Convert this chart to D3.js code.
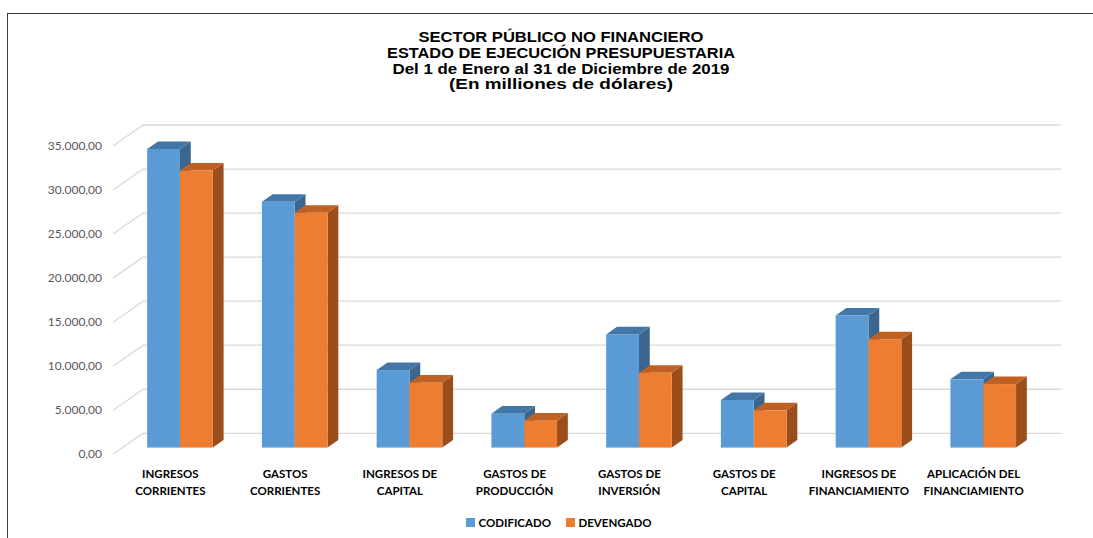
<!DOCTYPE html>
<html>
<head>
    <meta charset="UTF-8">
    <title>Sector Público No Financiero</title>
    <script src="https://d3js.org/d3.v7.min.js"></script>
    <style>
        body { margin: 0; background: #fff; }
    </style>
</head>
<body>
    <div id="chart"></div>

    <script>
        // chart data
        var titleLines = [
            "SECTOR PÚBLICO NO FINANCIERO",
            "ESTADO DE EJECUCIÓN PRESUPUESTARIA",
            "Del 1 de Enero al 31 de Diciembre de 2019",
            "(En milliones de dólares)"
        ];
        var categories = [
            ["INGRESOS", "CORRIENTES"],
            ["GASTOS", "CORRIENTES"],
            ["INGRESOS DE", "CAPITAL"],
            ["GASTOS DE", "PRODUCCIÓN"],
            ["GASTOS DE", "INVERSIÓN"],
            ["GASTOS DE", "CAPITAL"],
            ["INGRESOS DE", "FINANCIAMIENTO"],
            ["APLICACIÓN DEL", "FINANCIAMIENTO"]
        ];
        var seriesNames = ["CODIFICADO", "DEVENGADO"];
        var codificado = [33900, 27900, 8800, 3850, 12850, 5400, 15000, 7750];
        var devengado = [31450, 26650, 7370, 3060, 8500, 4230, 12280, 7210];
        var yTicks = [0, 5000, 10000, 15000, 20000, 25000, 30000, 35000];

        var colors = {
            CODIFICADO: { front: "#5B9BD5", top: "#4477A7", side: "#3A6690" },
            DEVENGADO: { front: "#ED7D31", top: "#BF6123", side: "#9B4D1C" }
        };

        var width = 1093, height = 538;

        // 3d depth of the floor (front edge -> back wall)
        var depth = { dx: 30, dy: -21 };
        var barFront = 0.32, barBack = 0.68;

        var svg = d3.select("#chart")
            .append("svg")
            .attr("width", width)
            .attr("height", height);

        // outer frame
        svg.append("rect")
            .attr("x", 7.5)
            .attr("y", 13.5)
            .attr("width", 1100)
            .attr("height", 600)
            .attr("fill", "#fff")
            .attr("stroke", "#3f3f3f")
            .attr("stroke-width", 1);

        // title
        var titleWidths = [285, 348, 337, 224];
        var titleY = [41.5, 57.5, 73.5, 89];
        svg.append("g")
            .selectAll("text")
            .data(titleLines)
            .enter()
            .append("text")
            .attr("x", 561)
            .attr("y", function (d, i) { return titleY[i]; })
            .attr("text-anchor", "middle")
            .attr("textLength", function (d, i) { return titleWidths[i]; })
            .attr("lengthAdjust", "spacingAndGlyphs")
            .style("font-family", "'Liberation Sans', Arial, sans-serif")
            .style("font-weight", "bold")
            .style("font-size", "14.5px")
            .style("fill", "#000")
            .text(function (d) { return d; });

        // scales (front plane of the floor)
        var x = d3.scaleBand()
            .domain(d3.range(categories.length))
            .range([113, 1031])
            .padding(0);

        var bw = x.bandwidth();
        var x1 = d3.scaleBand()
            .domain(seriesNames)
            .range([bw * 0.214, bw * 0.786])
            .padding(0);

        var y = d3.scaleLinear()
            .domain([0, 35000])
            .range([454.3, 146]);

        function pt(px, py, t) {
            return [px + depth.dx * t, py + depth.dy * t];
        }

        var grid = svg.append("g");

        // back wall gridlines + left wall diagonals
        grid.selectAll(".hline")
            .data(yTicks)
            .enter()
            .append("line")
            .attr("x1", x.range()[0] + depth.dx)
            .attr("x2", x.range()[1] + depth.dx)
            .attr("y1", function (d) { return y(d) + depth.dy; })
            .attr("y2", function (d) { return y(d) + depth.dy; })
            .style("stroke", "#d9d9d9")
            .style("stroke-width", 1.3);

        grid.selectAll(".dline")
            .data(yTicks)
            .enter()
            .append("line")
            .attr("x1", x.range()[0])
            .attr("x2", x.range()[0] + depth.dx)
            .attr("y1", function (d) { return y(d); })
            .attr("y2", function (d) { return y(d) + depth.dy; })
            .style("stroke", "#d9d9d9")
            .style("stroke-width", 1.3);

        // y axis labels
        var esLocale = d3.formatLocale({
            decimal: ",",
            thousands: ".",
            grouping: [3],
            currency: ["", ""]
        });
        var fmt = esLocale.format(",.2f");

        svg.append("g")
            .selectAll("text")
            .data(yTicks)
            .enter()
            .append("text")
            .attr("x", 102)
            .attr("y", function (d) { return y(d) + 1; })
            .attr("text-anchor", "end")
            .attr("dominant-baseline", "middle")
            .style("font-family", "Lato, 'Open Sans', sans-serif")
            .style("font-size", "12px")
            .style("fill", "#595959")
            .text(function (d) { return fmt(d); });

        // bars, drawn left to right
        var barData = [];
        categories.forEach(function (c, i) {
            barData.push({ i: i, s: "CODIFICADO", v: codificado[i] });
            barData.push({ i: i, s: "DEVENGADO", v: devengado[i] });
        });

        var bars = svg.append("g")
            .selectAll("g")
            .data(barData)
            .enter()
            .append("g");

        function poly(pts) {
            return pts.map(function (p) { return p.join(","); }).join(" ");
        }

        bars.each(function (d) {
            var g = d3.select(this);
            var x0 = x(d.i) + x1(d.s);
            var w = x1.bandwidth();
            var yb = y(0), yt = y(d.v);
            var c = colors[d.s];

            // side face
            g.append("polygon")
                .attr("points", poly([
                    pt(x0 + w, yt, barFront), pt(x0 + w, yt, barBack),
                    pt(x0 + w, yb, barBack), pt(x0 + w, yb, barFront)
                ]))
                .style("fill", c.side);

            // top face
            g.append("polygon")
                .attr("points", poly([
                    pt(x0, yt, barFront), pt(x0, yt, barBack),
                    pt(x0 + w, yt, barBack), pt(x0 + w, yt, barFront)
                ]))
                .style("fill", c.top);

            // front face
            var f = pt(x0, yt, barFront);
            g.append("rect")
                .attr("x", f[0])
                .attr("y", f[1])
                .attr("width", w)
                .attr("height", yb - yt)
                .style("fill", c.front);
        });

        // category labels
        var labels = svg.append("g")
            .selectAll("text")
            .data(categories)
            .enter()
            .append("text")
            .attr("text-anchor", "middle")
            .style("font-family", "Lato, 'Open Sans', sans-serif")
            .style("font-weight", "bold")
            .style("font-size", "11.5px")
            .style("fill", "#000");

        labels.selectAll("tspan")
            .data(function (d, i) { return d.map(function (t) { return { t: t, i: i }; }); })
            .enter()
            .append("tspan")
            .attr("x", function (d) { return x(d.i) + bw / 2; })
            .attr("y", function (d, j) { return 478.3 + j * 16.7; })
            .text(function (d) { return d.t; });

        // legend
        var legendX = [466, 566];
        var legend = svg.append("g")
            .selectAll("g")
            .data(seriesNames)
            .enter()
            .append("g")
            .attr("transform", function (d, i) { return "translate(" + legendX[i] + ",518)"; });

        legend.append("rect")
            .attr("width", 9)
            .attr("height", 9)
            .style("fill", function (d) { return colors[d].front; });

        legend.append("text")
            .attr("x", 12.5)
            .attr("y", 9)
            .style("font-family", "Lato, 'Open Sans', sans-serif")
            .style("font-weight", "bold")
            .style("font-size", "11.5px")
            .style("fill", "#000")
            .text(function (d) { return d; });
    </script>
</body>
</html>
